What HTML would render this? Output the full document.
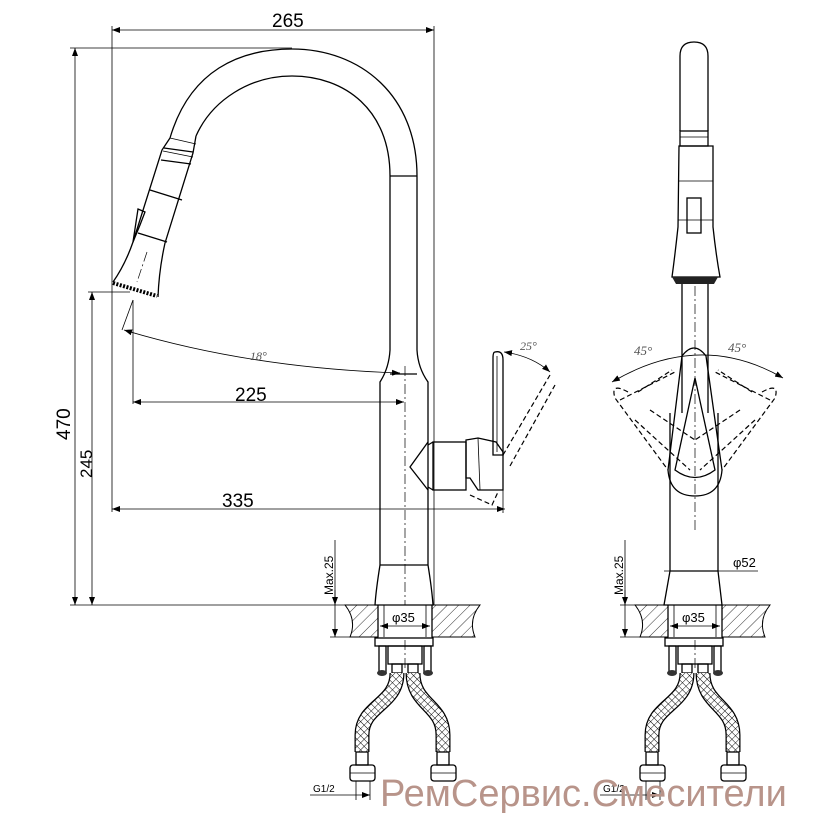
<!DOCTYPE html>
<html><head><meta charset="utf-8"><style>
html,body{margin:0;padding:0;background:#fff;}
svg{display:block;}
text{font-family:"Liberation Sans",sans-serif;fill:#000;}
.s{fill:none;stroke:#000;stroke-width:1.3;}
.t{fill:none;stroke:#000;stroke-width:0.8;}
.d{fill:none;stroke:#000;stroke-width:1.2;stroke-dasharray:5 3;}
.c{fill:none;stroke:#000;stroke-width:0.7;stroke-dasharray:10 3 2 3;}
.g{font-family:"Liberation Serif",serif;fill:#555;font-style:italic;}
</style></head><body>
<svg width="813" height="813" viewBox="0 0 813 813" xmlns="http://www.w3.org/2000/svg">
<defs>
<pattern id="hatch" width="8" height="8" patternUnits="userSpaceOnUse" patternTransform="rotate(45)">
<line x1="0" y1="0" x2="0" y2="8" stroke="#000" stroke-width="0.8"/></pattern>
<pattern id="mesh" width="5" height="5" patternUnits="userSpaceOnUse" patternTransform="rotate(45)">
<rect width="5" height="5" fill="#fff"/><path d="M0 0H5M0 0V5" stroke="#000" stroke-width="0.9"/></pattern>
<marker id="ar" markerWidth="8" markerHeight="6" refX="8" refY="3" orient="auto-start-reverse" markerUnits="userSpaceOnUse"><path d="M0,0 L8,3 L0,6 Z" fill="#000"/></marker>
<g id="lower">
 <path d="M345,605 L378,605 L378,637 L350,637 Q357,620 345,605 Z" fill="url(#hatch)" stroke="#000" stroke-width="1"/>
 <path d="M432,605 L480,605 Q468,620 475,637 L432,637 Z" fill="url(#hatch)" stroke="#000" stroke-width="1"/>
 <line x1="378" y1="605" x2="378" y2="637" class="s"/><line x1="432" y1="605" x2="432" y2="637" class="s"/>
 <line x1="384" y1="605" x2="384" y2="637" class="t"/><line x1="426" y1="605" x2="426" y2="637" class="t"/>
 <line x1="380" y1="626" x2="430" y2="626" class="t" marker-start="url(#ar)" marker-end="url(#ar)"/>
 <text x="392" y="622" font-size="13" font-family="Liberation Serif,serif">φ35</text>
 <rect x="375" y="638" width="58" height="8" class="s" fill="#fff"/>
 <rect x="379" y="646" width="7" height="26" class="s"/><rect x="424" y="646" width="7" height="26" class="s"/>
 <ellipse cx="382" cy="673" rx="5" ry="3" fill="#333"/><ellipse cx="428" cy="673" rx="5" ry="3" fill="#333"/>
 <rect x="388" y="646" width="34" height="18" class="s"/>
 <rect x="392" y="664" width="10" height="9" class="s"/><rect x="408" y="664" width="10" height="9" class="s"/>
 <path d="M397,673 C397,705 362,705 362,735 L362,752" fill="none" stroke="#000" stroke-width="15"/>
 <path d="M397,673 C397,705 362,705 362,735 L362,752" fill="none" stroke="url(#mesh)" stroke-width="12.5"/>
 <path d="M413,673 C413,705 443,705 443,735 L443,752" fill="none" stroke="#000" stroke-width="15"/>
 <path d="M413,673 C413,705 443,705 443,735 L443,752" fill="none" stroke="url(#mesh)" stroke-width="12.5"/>
 <rect x="356" y="752" width="12" height="13" class="s" fill="#fff"/><rect x="437" y="752" width="12" height="13" class="s" fill="#fff"/>
 <rect x="350" y="765" width="25" height="16" rx="3" class="s" fill="#fff"/><rect x="431" y="765" width="25" height="16" rx="3" class="s" fill="#fff"/>
 <line x1="350" y1="773" x2="375" y2="773" class="t"/><line x1="431" y1="773" x2="456" y2="773" class="t"/>
 <line x1="405" y1="640" x2="405" y2="670" class="c"/>
 <line x1="356" y1="781" x2="356" y2="800" class="t"/><line x1="370" y1="781" x2="370" y2="800" class="t"/>
 <line x1="310" y1="795" x2="370" y2="795" class="t" marker-end="url(#ar)"/>
 <text x="313" y="792" font-size="10">G1/2</text>
</g>
</defs>

<!-- LEFT VIEW dimensions -->
<line x1="112" y1="30" x2="434" y2="30" class="t" marker-start="url(#ar)" marker-end="url(#ar)"/>
<text x="272" y="27" font-size="19">265</text>
<line x1="112" y1="26" x2="112" y2="512" class="t"/>
<line x1="434" y1="26" x2="434" y2="605" class="t"/>
<line x1="70" y1="48" x2="292" y2="48" class="t"/>
<line x1="75" y1="48" x2="75" y2="605" class="t" marker-start="url(#ar)" marker-end="url(#ar)"/>
<text transform="translate(70,440) rotate(-90)" font-size="19">470</text>
<line x1="88" y1="292" x2="130" y2="292" class="t"/>
<line x1="92" y1="292" x2="92" y2="605" class="t" marker-start="url(#ar)" marker-end="url(#ar)"/>
<text transform="translate(92,478) rotate(-90)" font-size="17">245</text>
<line x1="70" y1="605" x2="345" y2="605" class="t"/>
<line x1="133" y1="300" x2="133" y2="404" class="t"/>
<line x1="133" y1="402" x2="404" y2="402" class="t" marker-start="url(#ar)" marker-end="url(#ar)"/>
<text x="235" y="401" font-size="19">225</text>
<line x1="112" y1="509" x2="505" y2="509" class="t" marker-start="url(#ar)" marker-end="url(#ar)"/>
<text x="222" y="507" font-size="19">335</text>
<line x1="503" y1="490" x2="503" y2="513" class="t"/>
<line x1="133" y1="300" x2="122" y2="330" class="t"/>
<path d="M124,330 Q250,368 400,373" class="t" marker-start="url(#ar)" marker-end="url(#ar)"/>
<text x="250" y="360" class="g" font-size="12">18°</text>
<text transform="translate(333,595) rotate(-90)" font-size="12">Max.25</text>
<line x1="335" y1="540" x2="335" y2="637" class="t" marker-end="url(#ar)"/>
<line x1="335" y1="590" x2="335" y2="605" class="t" marker-end="url(#ar)"/>
<line x1="330" y1="637" x2="350" y2="637" class="t"/>

<!-- left faucet body -->
<path d="M170,138 C190,70 240,49 292,49 C360,49 417,95 417,176 L417,350 Q418,368 428,382 L428,565 Q432,590 433,605 L375,605 Q376,590 380,565 L380,382 Q389,368 390,350 L390,176 C390,110 345,76 292,76 C250,76 212,100 196,136" class="s"/>
<line x1="390" y1="176" x2="417" y2="176" class="s"/>
<line x1="390" y1="374" x2="417" y2="374" class="s"/>
<line x1="380" y1="565" x2="428" y2="565" class="s"/>
<line x1="405" y1="366" x2="405" y2="605" class="c"/>
<!-- head (continuous) -->
<path d="M170,138 L162,150 L133,242 Q125,265 113,282" class="s"/>
<path d="M196,136 L193,153 L165,243 Q159,270 158,297" class="s"/>
<line x1="170" y1="138" x2="196" y2="144" class="t"/>
<line x1="164" y1="148" x2="193" y2="152" class="s"/>
<line x1="163" y1="151" x2="193" y2="157" class="t"/>
<line x1="161" y1="160" x2="191" y2="164" class="s"/>
<line x1="150" y1="190" x2="182" y2="200" class="s"/>
<line x1="138" y1="233" x2="167" y2="242" class="s"/>
<path d="M138,209 L145,212 L140,225 L133,242 Z" class="s"/>
<path d="M113,283 L157,296" fill="none" stroke="#000" stroke-width="4" stroke-dasharray="2 1.5"/>
<line x1="147" y1="252" x2="137" y2="282" class="c"/>
<!-- handle side -->
<path d="M428,442 L410,467 L428,490" class="s"/>
<path d="M433,442 L428,445 M433,490 L428,487" class="s"/>
<rect x="433" y="442" width="33" height="48" class="s"/>
<path d="M466,440 L478,438 L496,442 L503,452 L503,490 L478,490 L470,478 L466,478 Z" class="s"/>
<path d="M478,438 L480,490" class="t"/>
<path d="M495,352 Q503,350 503,360 L503,455 L493,455 L493,358 Q493,352 495,352 Z" class="s"/>
<path d="M497,356 L497,452" class="t"/>
<path d="M503,455 L550,375 M510,466 L555,385" class="d"/>
<path d="M470,495 L492,505 L498,492" class="d"/>
<path d="M504,352 Q532,356 550,372" class="t" marker-start="url(#ar)" marker-end="url(#ar)"/>
<text x="520" y="350" class="g" font-size="12">25°</text>

<use href="#lower"/>

<!-- RIGHT VIEW -->
<path d="M680,131 L680,56 Q680,42 694,42 Q708,42 708,56 L708,131" class="s"/>
<rect x="680" y="131" width="28" height="15" class="s"/>
<line x1="680" y1="137" x2="708" y2="137" class="t"/>
<path d="M679,146 L713,146 L713,227 Q716,255 720,277 L672,277 Q675,255 678,227 Z" class="s"/>
<line x1="679" y1="181" x2="713" y2="181" class="t"/>
<line x1="678" y1="220" x2="713" y2="220" class="t"/>
<rect x="687" y="198" width="14" height="35" class="s" fill="#fff"/>
<path d="M672,277 L718,277 L714,284 L676,284 Z" fill="#222"/>
<line x1="682" y1="284" x2="682" y2="413" class="s"/>
<line x1="708" y1="284" x2="708" y2="413" class="s"/>
<line x1="695" y1="286" x2="695" y2="530" class="c"/>
<path d="M670,413 L670,571 M718,413 L718,571" class="s"/>
<path d="M682,356 Q694,340 706,356 L722,470 Q720,496 695,496 Q670,496 668,470 Z" class="s" fill="#fff" stroke-width="2"/>
<path d="M695,378 L675,470 Q695,485 715,470 Z" class="s"/>
<path d="M612,382 Q700,330 783,378" class="t" marker-start="url(#ar)" marker-end="url(#ar)"/>
<text x="634" y="355" class="g" font-size="13">45°</text>
<text x="728" y="352" class="g" font-size="13">45°</text>
<path d="M628,392 Q610,382 615,398 L668,470 M620,400 L675,372 M638,392 L672,370" class="d"/>
<path d="M762,392 Q780,382 775,398 L722,470 M770,400 L715,372 M752,392 L718,370" class="d"/>
<path d="M635,420 L690,470 M650,410 L695,440" class="d" stroke-width="0.8"/>
<path d="M755,420 L700,470 M740,410 L695,440" class="d" stroke-width="0.8"/>
<path d="M670,571 L718,571 L722,605 L664,605 Z" class="s"/>
<line x1="664" y1="571" x2="758" y2="571" class="t"/>
<text x="733" y="567" font-size="13" font-family="Liberation Serif,serif">φ52</text>
<text transform="translate(623,595) rotate(-90)" font-size="12">Max.25</text>
<line x1="625" y1="540" x2="625" y2="637" class="t" marker-end="url(#ar)"/>
<line x1="625" y1="590" x2="625" y2="605" class="t" marker-end="url(#ar)"/>
<line x1="620" y1="605" x2="640" y2="605" class="t"/>
<line x1="620" y1="637" x2="640" y2="637" class="t"/>

<use href="#lower" transform="translate(290,0)"/>

<text x="380" y="806" font-size="38" style="fill:#b8948a">РемСервис.Смесители</text>
</svg>
</body></html>
